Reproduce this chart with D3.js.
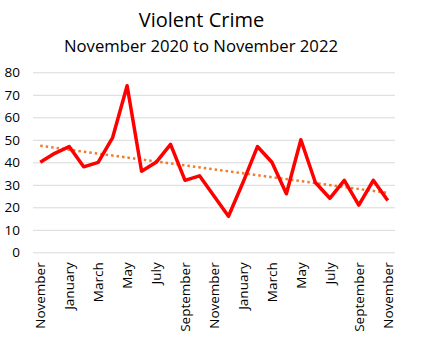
<!DOCTYPE html>
<html>
<head>
<meta charset="utf-8">
<script src="https://cdn.jsdelivr.net/npm/d3@7"></script>
<style>
  body { margin: 0; background: #fff; }
  text { font-family: "Open Sans", sans-serif; fill: #000; }
</style>
</head>
<body>
<script>
const title = "Violent Crime";
const subtitle = "November 2020 to November 2022";

// monthly categories, Nov 2020 - Nov 2022
const months = ["November", "December", "January", "February", "March", "April", "May", "June",
  "July", "August", "September", "October", "November", "December", "January", "February",
  "March", "April", "May", "June", "July", "August", "September", "October", "November"];
const crimes = [40, 44, 47, 38, 40, 51, 74, 36, 40, 48, 32, 34, 25, 16, 31, 47, 40, 26, 50, 31, 24, 32, 21, 32, 23];
const yTicks = [0, 10, 20, 30, 40, 50, 60, 70, 80];

//size and margin of svg
const canvWidth = 421;
const canvHeight = 354;
const margin = {top: 72.3, right: 26, bottom: 101.7, left: 33};
const width = canvWidth - margin.left - margin.right;
const height = canvHeight - margin.top - margin.bottom;

const svg = d3.select("body").append("svg")
  .attr("width", canvWidth)
  .attr("height", canvHeight);

const g = svg.append("g")
  .attr("transform", `translate(${margin.left},${margin.top})`);

//titles
svg.append("text")
  .attr("x", 201.5)
  .attr("y", 27)
  .style("text-anchor", "middle")
  .style("font-size", "20px")
  .text(title);

svg.append("text")
  .attr("x", 201)
  .attr("y", 52)
  .style("text-anchor", "middle")
  .style("font-size", "16.7px")
  .text(subtitle);

//scales
const idx = months.map((m, i) => i);
const xScale = d3.scalePoint().domain(idx).range([0, width]).padding(0.5);
const yScale = d3.scaleLinear().domain([0, 80]).range([height, 0]);

//y axis with gridlines
const yAxis = g.append("g")
  .call(d3.axisLeft(yScale).tickValues(yTicks).tickSize(-width).tickPadding(13));
yAxis.select(".domain").remove();
yAxis.selectAll(".tick line").attr("stroke", "#d9d9d9").attr("stroke-width", 1);
yAxis.selectAll(".tick text").style("font-size", "13.5px").attr("fill", "#000");

//x axis, every second month
const xAxis = g.append("g")
  .attr("transform", `translate(0,${height})`)
  .call(d3.axisBottom(xScale)
    .tickValues(idx.filter(i => i % 2 === 0))
    .tickFormat(i => months[i])
    .tickSize(0));
xAxis.select(".domain").remove();
xAxis.selectAll(".tick text")
  .style("font-size", "13.5px")
  .attr("fill", "#000")
  .attr("transform", "rotate(-90)")
  .attr("x", -10)
  .attr("y", 0)
  .attr("dy", "0.35em")
  .style("text-anchor", "end");

//linear trend line (least squares)
const meanX = d3.mean(idx);
const meanY = d3.mean(crimes);
const slope = d3.sum(idx, i => (i - meanX) * (crimes[i] - meanY)) / d3.sum(idx, i => (i - meanX) ** 2);
const trend = i => meanY + slope * (i - meanX);

g.append("line")
  .attr("x1", xScale(idx[0]))
  .attr("y1", yScale(trend(idx[0])))
  .attr("x2", xScale(idx[idx.length - 1]))
  .attr("y2", yScale(trend(idx[idx.length - 1])))
  .attr("stroke", "#ED7D31")
  .attr("stroke-width", 2.5)
  .attr("stroke-dasharray", "2.5,3");

//data line
const line = d3.line()
  .x((d, i) => xScale(i))
  .y(d => yScale(d));

g.append("path")
  .datum(crimes)
  .attr("d", line)
  .attr("fill", "none")
  .attr("stroke", "#FF0000")
  .attr("stroke-width", 3.5)
  .attr("stroke-linejoin", "round");
</script>
</body>
</html>
